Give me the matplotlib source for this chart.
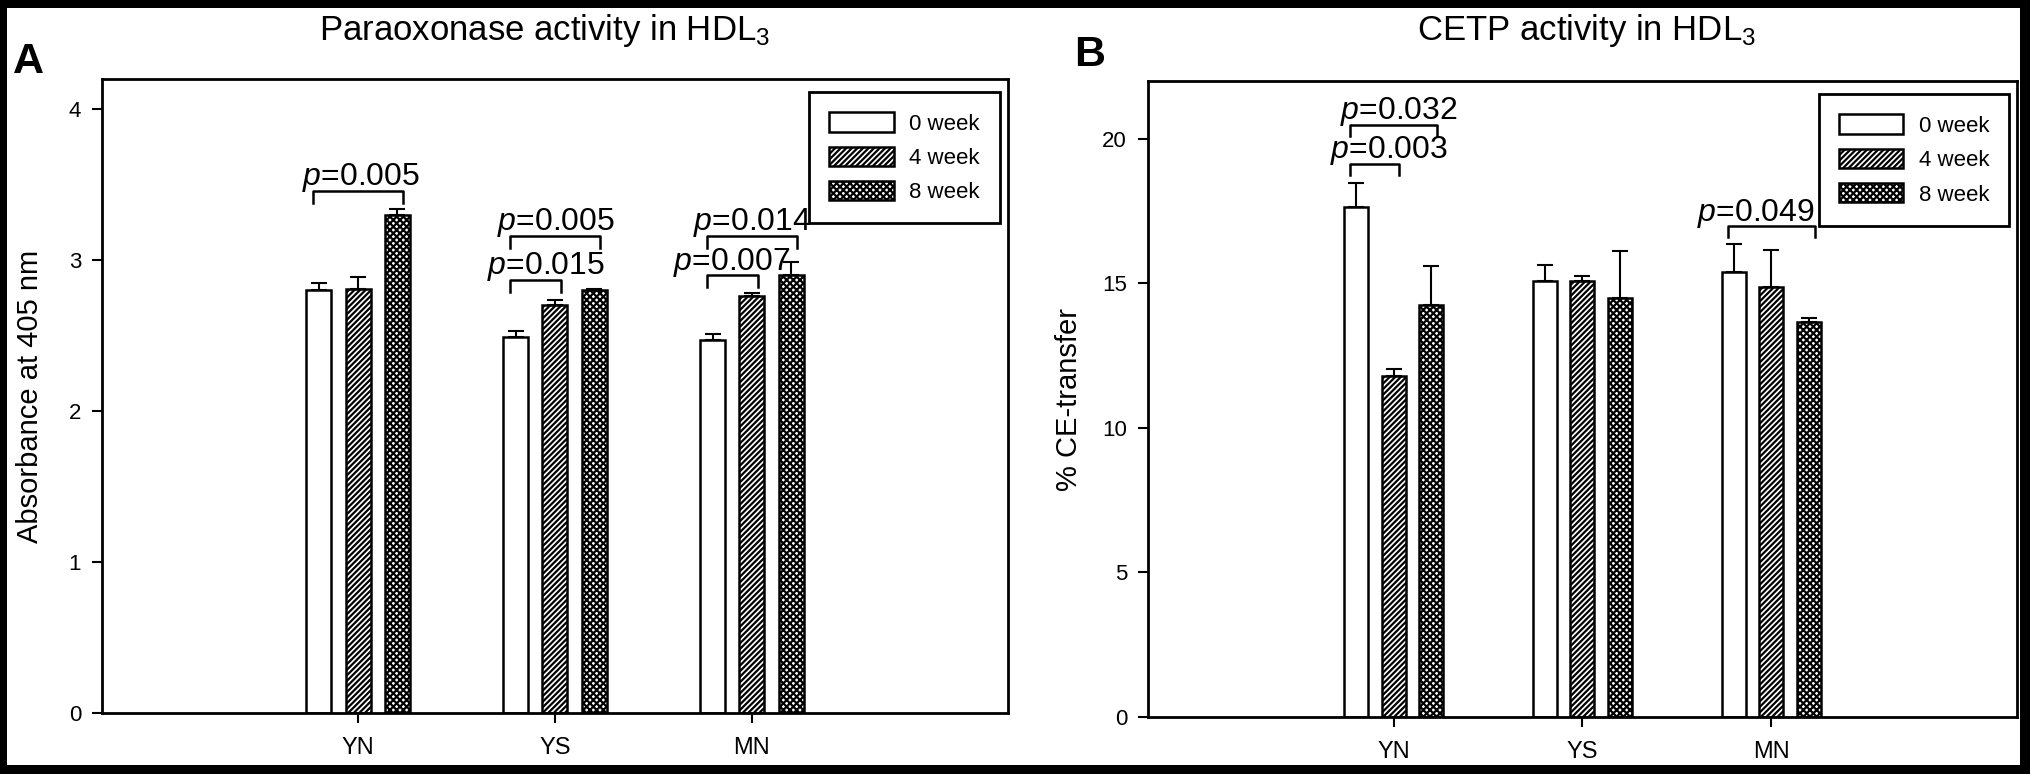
import numpy as np
import matplotlib
matplotlib.use("Agg")
import matplotlib.pyplot as plt
from matplotlib.patches import Rectangle

plt.rcParams['font.family'] = ['Liberation Sans', 'DejaVu Sans']
plt.rcParams['mathtext.fontset'] = 'custom'
plt.rcParams['mathtext.rm'] = 'Liberation Sans'
plt.rcParams['mathtext.it'] = 'Liberation Sans:italic'
plt.rcParams['hatch.linewidth'] = 1.6

groups = ['YN', 'YS', 'MN']
weeks = ['0 week', '4 week', '8 week']

pon_0 = [2.80, 2.49, 2.47]
pon_4 = [2.81, 2.70, 2.76]
pon_8 = [3.30, 2.80, 2.905]
pon_err_0 = [0.05, 0.04, 0.04]
pon_err_4 = [0.08, 0.035, 0.02]
pon_err_8 = [0.04, 0.01, 0.08]

cetp_0 = [17.63, 15.10, 15.41]
cetp_4 = [11.81, 15.10, 14.86]
cetp_8 = [14.27, 14.49, 13.65]
cetp_err_0 = [0.83, 0.54, 0.97]
cetp_err_4 = [0.23, 0.15, 1.29]
cetp_err_8 = [1.34, 1.64, 0.14]

# (group index, bar from, bar to, bracket height, label, text shift in points)
pon_pvals = [(0, 0, 2, 3.46, '0.005', 2),
             (1, 0, 2, 3.16, '0.005', 1),
             (1, 0, 1, 2.87, '0.015', 8),
             (2, 0, 2, 3.16, '0.014', 0),
             (2, 0, 1, 2.90, '0.007', 0)]
cetp_pvals = [(0, 0, 2, 20.48, '0.032', 4),
              (0, 0, 1, 19.13, '0.003', 10),
              (2, 0, 2, 16.97, '0.049', -11)]

hatches = ['', '//////', 'xxxxx']
offsets = [-0.2, 0.0, 0.2]
width = 0.127

fig = plt.figure(figsize=(20.31, 7.74), dpi=100)
fig.patch.set_facecolor('black')
fig.patches.append(Rectangle((0.0035, 0.0116), 0.991, 0.978, transform=fig.transFigure,
                             facecolor='white', edgecolor='none', zorder=-10))

ax1 = fig.add_axes([0.0502, 0.0788, 0.4461, 0.8191])
ax2 = fig.add_axes([0.5652, 0.0736, 0.4279, 0.8217])


def draw(ax, means, errs, pvals, ylim, yticks, ylabel, leg_len, label_x):
    x = np.arange(len(groups))
    for k in range(3):
        ax.bar(x + offsets[k], means[k], width, facecolor='white', edgecolor='black',
               hatch=hatches[k], linewidth=1.8, label=weeks[k], zorder=2)
        ax.errorbar(x + offsets[k], means[k], yerr=[np.zeros(3), errs[k]], fmt='none',
                    ecolor='black', elinewidth=1.5, capsize=5.5, capthick=1.5, zorder=3)
    for g, i, j, y, lab, dx in pvals:
        x0 = x[g] + offsets[i] - 0.03
        x1 = x[g] + offsets[j] + 0.03
        ax.plot([x0, x0, x1, x1], [y - leg_len, y, y, y - leg_len], color='black', lw=1.8, zorder=4)
        ax.annotate(r'$\it{p}$=' + lab, ((x0 + x1) / 2, y), xytext=(dx, 4), textcoords='offset points',
                    ha='center', va='baseline', fontsize=23)
    ax.set_xlim(-1.3, 3.3)
    ax.set_ylim(*ylim)
    ax.set_yticks(yticks)
    ax.set_xticks(x)
    ax.set_xticklabels(groups)
    ax.tick_params(axis='y', direction='out', length=7, width=1.5, labelsize=16, pad=8)
    ax.tick_params(axis='x', direction='out', length=7, width=1.5, labelsize=17, pad=10)
    for s in ax.spines.values():
        s.set_linewidth(2)
    ax.set_ylabel(ylabel, fontsize=21)
    ax.yaxis.set_label_coords(label_x, 0.5)
    leg = ax.legend(loc='upper right', bbox_to_anchor=(0.991, 0.979), borderaxespad=0,
                    fontsize=16, handlelength=2.9, handleheight=0.95, labelspacing=0.55,
                    handletextpad=0.7, borderpad=0.9, fancybox=False, framealpha=1)
    leg.get_frame().set_edgecolor('black')
    leg.get_frame().set_linewidth(2)


draw(ax1, [pon_0, pon_4, pon_8], [pon_err_0, pon_err_4, pon_err_8], pon_pvals,
     (0, 4.2), [0, 1, 2, 3, 4], 'Absorbance at 405 nm', 0.08, -0.064)
draw(ax2, [cetp_0, cetp_4, cetp_8], [cetp_err_0, cetp_err_4, cetp_err_8], cetp_pvals,
     (0, 22), [0, 5, 10, 15, 20], '% CE-transfer', 0.38, -0.075)

fig.text(0.268, 0.948, r'Paraoxonase activity in HDL$_3$', ha='center', va='baseline', fontsize=25)
fig.text(0.781, 0.948, r'CETP activity in HDL$_3$', ha='center', va='baseline', fontsize=25)
fig.text(0.0065, 0.906, 'A', fontsize=31, fontweight='bold', va='baseline')
fig.text(0.529, 0.915, 'B', fontsize=31, fontweight='bold', va='baseline')

fig.savefig('out.png', dpi=100, facecolor=fig.get_facecolor())
